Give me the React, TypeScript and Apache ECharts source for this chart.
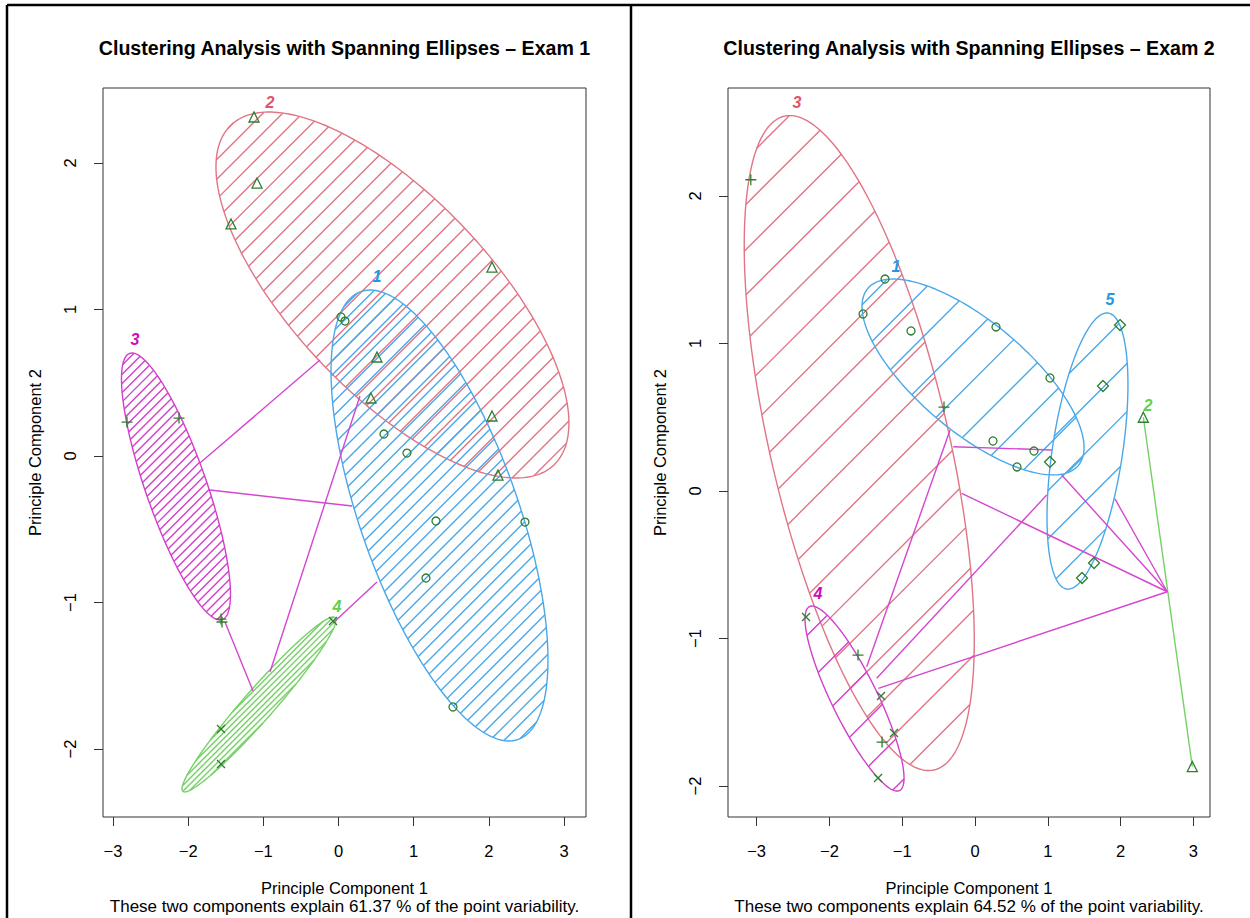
import React, { useEffect, useRef } from "react";
import * as echarts from "echarts";

// ---------------- data ----------------
const xTicks = [-3, -2, -1, 0, 1, 2, 3];
const yTicks = [-2, -1, 0, 1, 2];

const titles = [
  "Clustering Analysis with Spanning Ellipses \u2013 Exam 1",
  "Clustering Analysis with Spanning Ellipses \u2013 Exam 2",
];
const xName = "Principle Component 1";
const yName = "Principle Component 2";
const subtitles = [
  "These two components explain 61.37 % of the point variability.",
  "These two components explain 64.52 % of the point variability.",
];

// axis ranges [xmin, xmax, ymin, ymax]
const exam1Range = [-3.133, 3.293, -2.464, 2.512];
const exam2Range = [-3.393, 3.228, -2.21, 2.732];

// Exam 1 points by cluster
const e1c1 = [[0.033, 0.949], [0.086, 0.921], [0.605, 0.15], [0.911, 0.02], [1.297, -0.444], [1.164, -0.833], [2.481, -0.451], [1.523, -1.713]];
const e1c2 = [[-1.124, 2.314], [-1.084, 1.863], [-1.43, 1.584], [2.042, 1.29], [0.512, 0.676], [0.432, 0.396], [2.042, 0.273], [2.122, -0.13]];
const e1c3 = [[-2.814, 0.232], [-2.122, 0.259], [-1.563, -1.113], [-1.55, -1.133]];
const e1c4 = [[-0.073, -1.126], [-1.563, -1.863], [-1.563, -2.102]];

// Exam 1 ellipses: [cluster, cx, cy, sx, sy, rho]
const e1Ellipses = [
  [2, 0.718, 1.099, 2.348, 1.249, -0.7],
  [1, 1.344, -0.406, 1.443, 1.539, -0.64],
  [3, -2.162, -0.208, 0.725, 0.911, -0.807],
  [4, -1.058, -1.696, 1.024, 0.597, 0.965],
];
// Exam 1 links between ellipses [x1, y1, x2, y2]
const e1Links = [
  [-1.843, -0.048, -0.246, 0.655],
  [-1.709, -0.232, 0.18, -0.341],
  [-1.51, -1.133, -1.137, -1.604],
  [-0.911, -1.474, 0.286, 0.41],
  [-0.073, -1.14, 0.512, -0.86],
];
// Exam 1 cluster labels [cluster, x, y]
const e1Labels = [[1, 0.512, 1.222], [2, -0.911, 2.41], [3, -2.707, 0.792], [4, -0.02, -1.024]];

// Exam 2 points by cluster
const e2c1 = [[-1.538, 1.2], [-1.236, 1.437], [-0.879, 1.085], [0.288, 1.112], [1.03, 0.766], [0.247, 0.339], [0.81, 0.271], [0.577, 0.163]];
const e2c2 = [[2.312, 0.5], [2.985, -1.868]];
const e2c3 = [[-3.08, 2.11], [-0.426, 0.569], [-1.607, -1.112], [-1.277, -1.702]];
const e2c4 = [[-2.321, -0.854], [-1.291, -1.39], [-1.113, -1.641], [-1.332, -1.946]];
const e2c5 = [[1.992, 1.125], [1.758, 0.712], [1.03, 0.197], [1.635, -0.488], [1.47, -0.59]];

const e2Ellipses = [
  [3, -1.59, 0.325, 1.58, 2.22, -0.6035],
  [1, -0.027, 0.773, 1.525, 0.664, -0.72],
  [5, 1.545, 0.271, 0.556, 0.936, 0.4815],
  [4, -1.655, -1.407, 0.68, 0.627, -0.8586],
  [2, 2.6485, -0.684, 0.3365, 1.184, -1],
];
const e2Links = [
  [-1.488, -1.191, -0.343, 0.414],
  [-1.35, -1.27, 0.985, -0.027],
  [-1.328, -1.338, 2.641, -0.683],
  [1.191, 0.108, 2.641, -0.683],
  [1.923, -0.054, 2.641, -0.683],
  [-0.183, -0.016, 2.641, -0.683],
  [-0.298, 0.3, 1.054, 0.278],
];
const e2Labels = [[3, -2.445, 2.631], [1, -1.085, 1.519], [5, 1.854, 1.295], [2, 2.376, 0.583], [4, -2.157, -0.692]];

// ---------------- styles ----------------
const RED = "#E07585";
const BLUE = "#4AA8EA";
const MAGENTA = "#D23FCB";
const GREEN = "#74D264";
const LABEL_COLORS: Record<string, string> = { [RED]: "#DF536B", [BLUE]: "#2297E6", [MAGENTA]: "#CD0BBC", [GREEN]: "#61D04F" };
const POINT = "#2f7d2f";
const LINK = "#D547CF";
const FONT = '"Liberation Sans", Arial, Helvetica, sans-serif';

const e1Colors: Record<number, string> = { 1: BLUE, 2: RED, 3: MAGENTA, 4: GREEN };
const e2Colors: Record<number, string> = { 1: BLUE, 2: GREEN, 3: RED, 4: MAGENTA, 5: BLUE };
const e1Hatch: Record<number, number> = { 1: 10, 2: 14, 3: 6.5, 4: 4.2 };
const e2Hatch: Record<number, number> = { 1: 33, 2: 0, 3: 32, 4: 34, 5: 34 };

const SYMBOLS: Record<number, { symbol: string; size: number }> = {
  1: { symbol: "circle", size: 8 },
  2: { symbol: "triangle", size: 10 },
  3: { symbol: "path://M5,0L5,10M0,5L10,5", size: 11 },
  4: { symbol: "path://M0,0L10,10M10,0L0,10", size: 8 },
  5: { symbol: "diamond", size: 11 },
};

const grids = [
  { left: 103, top: 88, width: 483, height: 729 },
  { left: 728, top: 88, width: 482, height: 729 },
];

// shape made of many independent segments (hatch lines)
const HatchShape = (echarts as any).graphic.extendShape({
  type: "hatch",
  shape: { segs: [] as number[] },
  buildPath(ctx: any, shape: any) {
    const s = shape.segs || [];
    for (let i = 0; i + 3 < s.length; i += 4) {
      ctx.moveTo(s[i], s[i + 1]);
      ctx.lineTo(s[i + 2], s[i + 3]);
    }
  },
});
(echarts as any).graphic.registerShape("hatch", HatchShape);

const fmt = (v: number) => String(v).replace("-", "\u2212");

function ellipseSeries(ellipses: number[][], gi: number, colors: Record<number, string>, hatch: Record<number, number>) {
  return ellipses.map((e) => {
    const cl = e[0];
    const color = colors[cl];
    const spacing = hatch[cl];
    return {
      type: "custom",
      coordinateSystem: "cartesian2d",
      xAxisIndex: gi,
      yAxisIndex: gi,
      silent: true,
      z: 2,
      data: [[e[1], e[2], e[3], e[4], e[5]]],
      renderItem: (params: any, api: any) => {
        const cx = api.value(0), cy = api.value(1), sx = api.value(2), sy = api.value(3), rho = api.value(4);
        const k = Math.sqrt(Math.max(0, 1 - rho * rho));
        const N = 240;
        const pts: number[][] = [];
        for (let j = 0; j < N; j++) {
          const t = (2 * Math.PI * j) / N;
          pts.push(api.coord([cx + sx * Math.cos(t), cy + sy * (rho * Math.cos(t) + k * Math.sin(t))]));
        }
        const segs: number[] = [];
        if (spacing > 0 && k > 0.001) {
          const s = pts.map((p) => (p[0] + p[1]) / Math.SQRT2);
          const smin = Math.min(...s), smax = Math.max(...s);
          for (let c = Math.ceil(smin / spacing) * spacing; c <= smax; c += spacing) {
            const hits: number[][] = [];
            for (let j = 0; j < N; j++) {
              const a = s[j], b = s[(j + 1) % N];
              if ((a - c) * (b - c) < 0) {
                const f = (c - a) / (b - a);
                const p = pts[j], q = pts[(j + 1) % N];
                hits.push([p[0] + f * (q[0] - p[0]), p[1] + f * (q[1] - p[1])]);
              }
            }
            if (hits.length >= 2) segs.push(hits[0][0], hits[0][1], hits[1][0], hits[1][1]);
          }
        }
        const children: any[] = [];
        if (segs.length) {
          children.push({ type: "hatch", shape: { segs }, style: { fill: "none", stroke: color, lineWidth: 1.4 } });
        }
        children.push({ type: "polygon", shape: { points: pts }, style: { fill: "none", stroke: color, lineWidth: 1.4 } });
        return { type: "group", children };
      },
    };
  });
}

function linkSeries(links: number[][], gi: number) {
  return {
    type: "custom",
    coordinateSystem: "cartesian2d",
    xAxisIndex: gi,
    yAxisIndex: gi,
    silent: true,
    z: 3,
    data: links,
    renderItem: (params: any, api: any) => {
      const p = api.coord([api.value(0), api.value(1)]);
      const q = api.coord([api.value(2), api.value(3)]);
      return { type: "line", shape: { x1: p[0], y1: p[1], x2: q[0], y2: q[1] }, style: { stroke: LINK, lineWidth: 1.4, fill: "none" } };
    },
  };
}

function labelSeries(labels: number[][], gi: number, colors: Record<number, string>) {
  return {
    type: "custom",
    coordinateSystem: "cartesian2d",
    xAxisIndex: gi,
    yAxisIndex: gi,
    silent: true,
    z: 5,
    data: labels,
    renderItem: (params: any, api: any) => {
      const cl = api.value(0);
      const p = api.coord([api.value(1), api.value(2)]);
      return {
        type: "text",
        x: p[0],
        y: p[1],
        style: {
          text: String(cl),
          fill: LABEL_COLORS[colors[cl]] || colors[cl],
          font: `italic bold 16px ${FONT}`,
          align: "center",
          verticalAlign: "middle",
        },
      };
    },
  };
}

function pointSeries(pts: number[][], cl: number, gi: number) {
  const s = SYMBOLS[cl];
  return {
    type: "scatter",
    xAxisIndex: gi,
    yAxisIndex: gi,
    silent: true,
    z: 4,
    symbol: s.symbol,
    symbolSize: s.size,
    itemStyle: { color: "rgba(0,0,0,0)", borderColor: POINT, borderWidth: 1.3, opacity: 1 },
    data: pts,
  };
}

const AXIS_FONT = 16.5;
const SUB_FONT = 17;

function xAxis(gi: number, range: number[]) {
  return {
    type: "value",
    gridIndex: gi,
    min: range[0],
    max: range[1],
    axisLine: { show: false, onZero: false },
    splitLine: { show: false },
    axisTick: { show: true, customValues: xTicks, length: 9, lineStyle: { color: "#333", width: 1 } },
    axisLabel: { customValues: xTicks, formatter: fmt, margin: 25, fontSize: AXIS_FONT, color: "#000", fontFamily: FONT },
    name: xName,
    nameLocation: "middle",
    nameGap: 62.5,
    nameTextStyle: { fontSize: AXIS_FONT, color: "#000", fontFamily: FONT },
  };
}

function yAxis(gi: number, range: number[]) {
  return {
    type: "value",
    gridIndex: gi,
    min: range[2],
    max: range[3],
    axisLine: { show: false, onZero: false },
    splitLine: { show: false },
    axisTick: { show: true, customValues: yTicks, length: 9, lineStyle: { color: "#333", width: 1 } },
    axisLabel: { customValues: yTicks, formatter: fmt, margin: 24.5, rotate: 90, fontSize: AXIS_FONT, color: "#000", fontFamily: FONT },
    name: yName,
    nameLocation: "middle",
    nameGap: 59.5,
    nameTextStyle: { fontSize: AXIS_FONT, color: "#000", fontFamily: FONT },
  };
}

export default function App() {
  const ref = useRef<HTMLDivElement>(null);
  useEffect(() => {
    if (!ref.current) return;
    const chart = echarts.init(ref.current, undefined, { renderer: "svg" });
    const cx0 = grids[0].left + grids[0].width / 2;
    const cx1 = grids[1].left + grids[1].width / 2;
    chart.setOption({
      animation: false,
      backgroundColor: "#fff",
      grid: grids.map((g) => ({ ...g, show: true, borderColor: "#333", borderWidth: 1, backgroundColor: "transparent" })),
      xAxis: [xAxis(0, exam1Range), xAxis(1, exam2Range)],
      yAxis: [yAxis(0, exam1Range), yAxis(1, exam2Range)],
      graphic: [
        { type: "line", shape: { x1: 7, y1: 5, x2: 1250, y2: 5 }, style: { stroke: "#000", lineWidth: 2.5 } },
        { type: "line", shape: { x1: 7, y1: 5, x2: 7, y2: 918 }, style: { stroke: "#000", lineWidth: 2.5 } },
        { type: "line", shape: { x1: 631, y1: 5, x2: 631, y2: 918 }, style: { stroke: "#000", lineWidth: 2.5 } },
        { type: "text", x: cx0, y: 48, style: { text: titles[0], font: `bold 19.6px ${FONT}`, fill: "#000", align: "center", verticalAlign: "middle" } },
        { type: "text", x: cx1, y: 48, style: { text: titles[1], font: `bold 19.6px ${FONT}`, fill: "#000", align: "center", verticalAlign: "middle" } },
        { type: "text", x: cx0, y: 906, style: { text: subtitles[0], font: `${SUB_FONT}px ${FONT}`, fill: "#000", align: "center", verticalAlign: "middle" } },
        { type: "text", x: cx1, y: 906, style: { text: subtitles[1], font: `${SUB_FONT}px ${FONT}`, fill: "#000", align: "center", verticalAlign: "middle" } },
      ],
      series: [
        ...ellipseSeries(e1Ellipses, 0, e1Colors, e1Hatch),
        linkSeries(e1Links, 0),
        pointSeries(e1c1, 1, 0),
        pointSeries(e1c2, 2, 0),
        pointSeries(e1c3, 3, 0),
        pointSeries(e1c4, 4, 0),
        labelSeries(e1Labels, 0, e1Colors),
        ...ellipseSeries(e2Ellipses, 1, e2Colors, e2Hatch),
        linkSeries(e2Links, 1),
        pointSeries(e2c1, 1, 1),
        pointSeries(e2c2, 2, 1),
        pointSeries(e2c3, 3, 1),
        pointSeries(e2c4, 4, 1),
        pointSeries(e2c5, 5, 1),
        labelSeries(e2Labels, 1, e2Colors),
      ],
    });
    return () => chart.dispose();
  }, []);
  return <div ref={ref} style={{ position: "fixed", left: 0, top: 0, width: 1250, height: 918, background: "#fff" }} />;
}
